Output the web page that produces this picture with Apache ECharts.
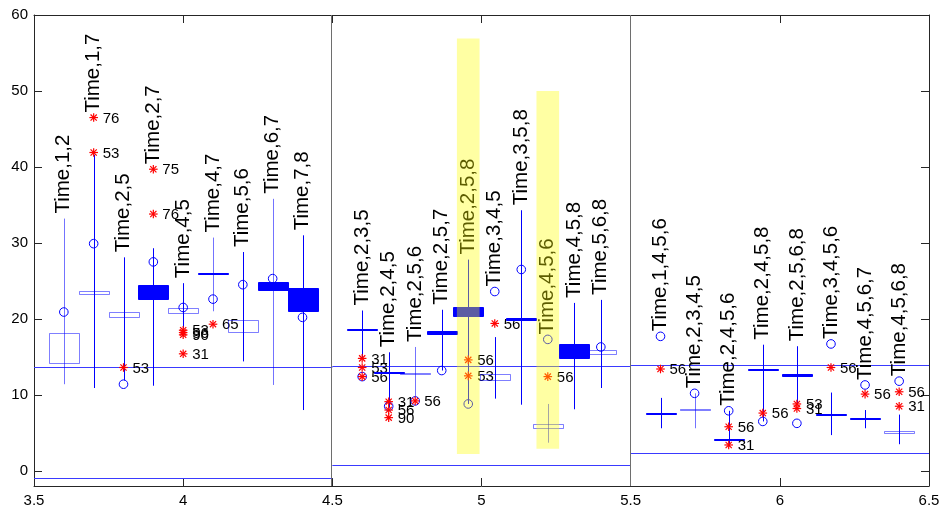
<!DOCTYPE html>
<html>
<head>
<meta charset="utf-8">
<script src="https://cdn.jsdelivr.net/npm/echarts@6/dist/echarts.min.js"></script>
<style>
  html, body { margin: 0; padding: 0; background: #ffffff; }
  #chart { width: 941px; height: 512px; }
</style>
</head>
<body>
<div id="chart"></div>
<script>
// ---- data -------------------------------------------------------------
// number of comparison groups in each of the three panels (centred on x = 4, 5, 6)
const panelSizes = [9, 10, 8];
const panelCenters = [4, 5, 6];

const groupNames = [
  'Time,1,2', 'Time,1,7', 'Time,2,5', 'Time,2,7', 'Time,4,5', 'Time,4,7', 'Time,5,6', 'Time,6,7', 'Time,7,8',
  'Time,2,3,5', 'Time,2,4,5', 'Time,2,5,6', 'Time,2,5,7', 'Time,2,5,8', 'Time,3,4,5', 'Time,3,5,8', 'Time,4,5,6', 'Time,4,5,8', 'Time,5,6,8',
  'Time,1,4,5,6', 'Time,2,3,4,5', 'Time,2,4,5,6', 'Time,2,4,5,8', 'Time,2,5,6,8', 'Time,3,4,5,6', 'Time,4,5,6,7', 'Time,4,5,6,8'
];

// whisker range
const whiskerLow = [
  11.4, 10.9, 11.9, 11.2, 18.8, 21.0, 14.4, 11.3, 8.0,
  14.8, 8.3, 9.8, 13.2, 8.8, 9.5, 8.7, 3.7, 8.1, 10.9,
  5.6, 5.6, 3.2, 6.5, 8.8, 4.7, 5.6, 3.5
];
const whiskerHigh = [
  33.2, 41.6, 28.1, 29.3, 24.7, 30.7, 28.8, 35.8, 31.0,
  21.1, 15.6, 16.3, 21.2, 27.8, 17.6, 34.3, 8.8, 22.1, 22.5,
  9.6, 10.2, 7.9, 16.6, 16.4, 10.3, 8.0, 7.4
];

// box range
const boxLow = [
  14.2, 23.3, 20.3, 22.7, 20.8, 25.85, 18.3, 23.9, 21.0,
  18.6, 12.85, 12.8, 18.0, 20.3, 11.9, 19.85, 5.6, 14.9, 15.4,
  7.5, 8.1, 4.15, 13.2, 12.45, 7.4, 6.85, 5.0
];
const boxHigh = [
  18.1, 23.7, 20.9, 24.5, 21.4, 26.0, 19.9, 24.9, 24.0,
  18.7, 12.95, 12.9, 18.4, 21.5, 12.7, 20.15, 6.1, 16.7, 15.9,
  7.6, 8.2, 4.25, 13.35, 12.75, 7.5, 6.95, 5.3
];

// group means (circles)
const meanValues = [
  20.9, 29.9, 11.4, 27.5, 21.5, 22.6, 24.5, 25.3, 20.2,
  12.4, 8.5, 9.2, 13.2, 8.8, 23.6, 26.5, 17.3, 15.6, 16.3,
  17.7, 10.2, 7.9, 6.5, 6.25, 16.7, 11.3, 11.8
];

// outlying subjects: group index, value, subject id
const outlierGroup = [1, 1, 2, 3, 3, 4, 4, 4, 4, 5,
  9, 9, 9, 10, 10, 10, 11, 13, 13, 14, 16,
  19, 21, 21, 22, 23, 23, 24, 25, 26, 26];
const outlierValue = [41.9, 46.5, 13.6, 33.8, 39.7, 18.5, 18.2, 17.9, 15.4, 19.3,
  14.8, 13.6, 12.4, 9.1, 8.0, 7.0, 9.2, 14.6, 12.5, 19.4, 12.4,
  13.4, 5.8, 3.4, 7.6, 8.8, 8.2, 13.6, 10.1, 10.4, 8.5];
const outlierId = ['53', '76', '53', '76', '75', '53', '56', '90', '31', '65',
  '31', '53', '56', '31', '56', '90', '56', '56', '53', '56', '56',
  '56', '56', '31', '56', '53', '31', '56', '56', '56', '31'];

// reference levels drawn across each panel
const upperLevel = [13.6, 13.8, 13.9];
const lowerLevel = [-1.0, 0.8, 2.4];

// highlighted groups and the extent of their bands
const highlightGroups = [13, 16];
const highlightLow = [2.2, 2.9];
const highlightHigh = [56.9, 50.0];

// y tick labels
const yTicks = [0, 10, 20, 30, 40, 50, 60];

// ---- appearance -------------------------------------------------------
// solid (1) or open (0) boxes, faint (1) or full (0) whiskers
const boxSolid = [0, 0, 0, 1, 0, 1, 0, 1, 1,
  1, 1, 0, 1, 1, 0, 1, 0, 1, 0,
  1, 0, 1, 1, 1, 1, 1, 0];
const whiskerFaint = [1, 0, 0, 0, 0, 1, 0, 1, 0,
  0, 0, 1, 0, 0, 0, 0, 1, 0, 0,
  0, 1, 0, 0, 0, 0, 0, 0];

const BLUE = '#0000ff';
const FAINT = 'rgba(0,0,255,0.55)';
const OPEN_EDGE = 'rgba(0,0,255,0.5)';
const FONT = 'Liberation Sans';
const BOX_HALF = 0.05;
const PANEL_SPAN = 0.8;

// x position of each group: evenly spread over each panel
const groupX = [];
panelSizes.forEach((n, p) => {
  for (let k = 0; k < n; k++) {
    groupX.push(panelCenters[p] - PANEL_SPAN / 2 + k * PANEL_SPAN / (n - 1));
  }
});

const crisp = v => Math.round(v) + 0.5;

function renderGroup(params, api) {
  const i = api.value(1);
  const x = api.value(0);
  const children = [];

  // whisker
  const top = api.coord([x, whiskerHigh[i]]);
  const bot = api.coord([x, whiskerLow[i]]);
  const cx = crisp(top[0]);
  children.push({
    type: 'line',
    shape: { x1: cx, y1: top[1], x2: cx, y2: bot[1] },
    style: { stroke: whiskerFaint[i] ? FAINT : BLUE, lineWidth: 1 }
  });

  // box
  const p1 = api.coord([x - BOX_HALF, boxHigh[i]]);
  const p2 = api.coord([x + BOX_HALF, boxLow[i]]);
  const bx = crisp(p1[0]), by = crisp(p1[1]);
  const bw = Math.round(p2[0] - p1[0]);
  const bh = Math.max(1, Math.round(p2[1] - p1[1]));
  children.push({
    type: 'rect',
    shape: { x: bx, y: by, width: bw, height: bh },
    style: boxSolid[i]
      ? { fill: BLUE, stroke: BLUE, lineWidth: 1 }
      : { fill: 'none', stroke: OPEN_EDGE, lineWidth: 1 }
  });

  // mean
  const m = api.coord([x, meanValues[i]]);
  children.push({
    type: 'circle',
    shape: { cx: m[0], cy: m[1], r: 4.3 },
    style: { fill: 'none', stroke: BLUE, lineWidth: 1 }
  });

  // outliers
  let highest = Math.max(whiskerHigh[i], meanValues[i]);
  outlierGroup.forEach((g, k) => {
    if (g !== i) return;
    const v = outlierValue[k];
    highest = Math.max(highest, v);
    const s = api.coord([x, v]);
    const r = 4.3, d = 3.1;
    const sx = s[0], sy = s[1];
    [[sx - r, sy, sx + r, sy], [sx, sy - r, sx, sy + r],
     [sx - d, sy - d, sx + d, sy + d], [sx - d, sy + d, sx + d, sy - d]].forEach(a => {
      children.push({
        type: 'line',
        shape: { x1: a[0], y1: a[1], x2: a[2], y2: a[3] },
        style: { stroke: '#ff0000', lineWidth: 1.2 }
      });
    });
    children.push({
      type: 'text',
      x: sx + 9, y: sy + 1,
      style: { text: outlierId[k], fill: '#000', font: '15px "' + FONT + '"', align: 'left', verticalAlign: 'middle' }
    });
  });

  // group name, written upwards above the highest mark
  const a = api.coord([x, highest]);
  children.push({
    type: 'text',
    x: a[0], y: a[1] - 5,
    rotation: Math.PI / 2,
    style: { text: groupNames[i], fill: '#000', font: '20.5px "' + FONT + '"', align: 'left', verticalAlign: 'middle' }
  });

  return { type: 'group', children: children };
}

function renderLevels(params, api) {
  const p = api.value(0);
  const c = panelCenters[p];
  const children = [];
  [upperLevel[p], lowerLevel[p]].forEach(v => {
    const l = api.coord([c - 0.5, v]);
    const r = api.coord([c + 0.5, v]);
    const y = crisp(l[1]);
    children.push({
      type: 'line',
      shape: { x1: l[0], y1: y, x2: r[0], y2: y },
      style: { stroke: '#3a3aff', lineWidth: 1 }
    });
  });
  if (p > 0) {
    const t = api.coord([c - 0.5, 60]);
    const b = api.coord([c - 0.5, -2]);
    const x = crisp(t[0]) - 1;
    children.push({
      type: 'line',
      shape: { x1: x, y1: t[1], x2: x, y2: b[1] },
      style: { stroke: '#6e6e6e', lineWidth: 1 }
    });
  }
  return { type: 'group', children: children };
}

function renderHighlight(params, api) {
  const k = api.value(0);
  const g = highlightGroups[k];
  const x = groupX[g];
  const tl = api.coord([x - 0.038, highlightHigh[k]]);
  const br = api.coord([x + 0.038, highlightLow[k]]);
  return {
    type: 'rect',
    shape: { x: tl[0], y: tl[1], width: br[0] - tl[0], height: br[1] - tl[1] },
    style: { fill: 'rgba(255,255,0,0.36)' }
  };
}

const axisColor = '#262626';
const chart = echarts.init(document.getElementById('chart'));
chart.setOption({
  animation: false,
  backgroundColor: '#ffffff',
  grid: { left: 34, right: 12, top: 15, bottom: 26, containLabel: false, outerBoundsMode: 'none' },
  xAxis: [
    {
      type: 'value', min: 3.5, max: 6.5, interval: 0.5, position: 'bottom',
      axisLine: { show: true, onZero: false, lineStyle: { color: axisColor, width: 1 } },
      axisTick: { show: true, inside: true, length: 8, lineStyle: { color: axisColor } },
      axisLabel: { show: true, color: '#000', fontSize: 15, fontFamily: FONT, margin: 7 },
      splitLine: { show: false }
    },
    {
      type: 'value', min: 3.5, max: 6.5, interval: 0.5, position: 'top',
      axisLine: { show: true, onZero: false, lineStyle: { color: axisColor, width: 1 } },
      axisTick: { show: true, inside: true, length: 8, lineStyle: { color: axisColor } },
      axisLabel: { show: false },
      splitLine: { show: false }
    }
  ],
  yAxis: [
    {
      type: 'value', min: -2, max: 60, position: 'left',
      axisLine: { show: true, onZero: false, lineStyle: { color: axisColor, width: 1 } },
      axisTick: { show: true, inside: true, length: 8, customValues: yTicks, lineStyle: { color: axisColor } },
      axisLabel: { show: true, customValues: yTicks, color: '#000', fontSize: 15, fontFamily: FONT, margin: 6 },
      splitLine: { show: false }
    },
    {
      type: 'value', min: -2, max: 60, position: 'right',
      axisLine: { show: true, onZero: false, lineStyle: { color: axisColor, width: 1 } },
      axisTick: { show: true, inside: true, length: 8, customValues: yTicks, lineStyle: { color: axisColor } },
      axisLabel: { show: false, customValues: yTicks },
      splitLine: { show: false }
    }
  ],
  series: [
    {
      type: 'custom', name: 'levels', z: 1,
      renderItem: renderLevels,
      data: panelCenters.map((c, p) => [p]),
      encode: { x: -1, y: -1 },
      silent: true
    },
    {
      type: 'custom', name: 'groups', z: 2,
      renderItem: renderGroup,
      data: groupX.map((x, i) => [x, i]),
      encode: { x: 0, y: -1 },
      silent: true
    },
    {
      type: 'custom', name: 'highlight', z: 5,
      renderItem: renderHighlight,
      data: highlightGroups.map((g, k) => [k]),
      encode: { x: -1, y: -1 },
      silent: true
    }
  ]
});
</script>
</body>
</html>
